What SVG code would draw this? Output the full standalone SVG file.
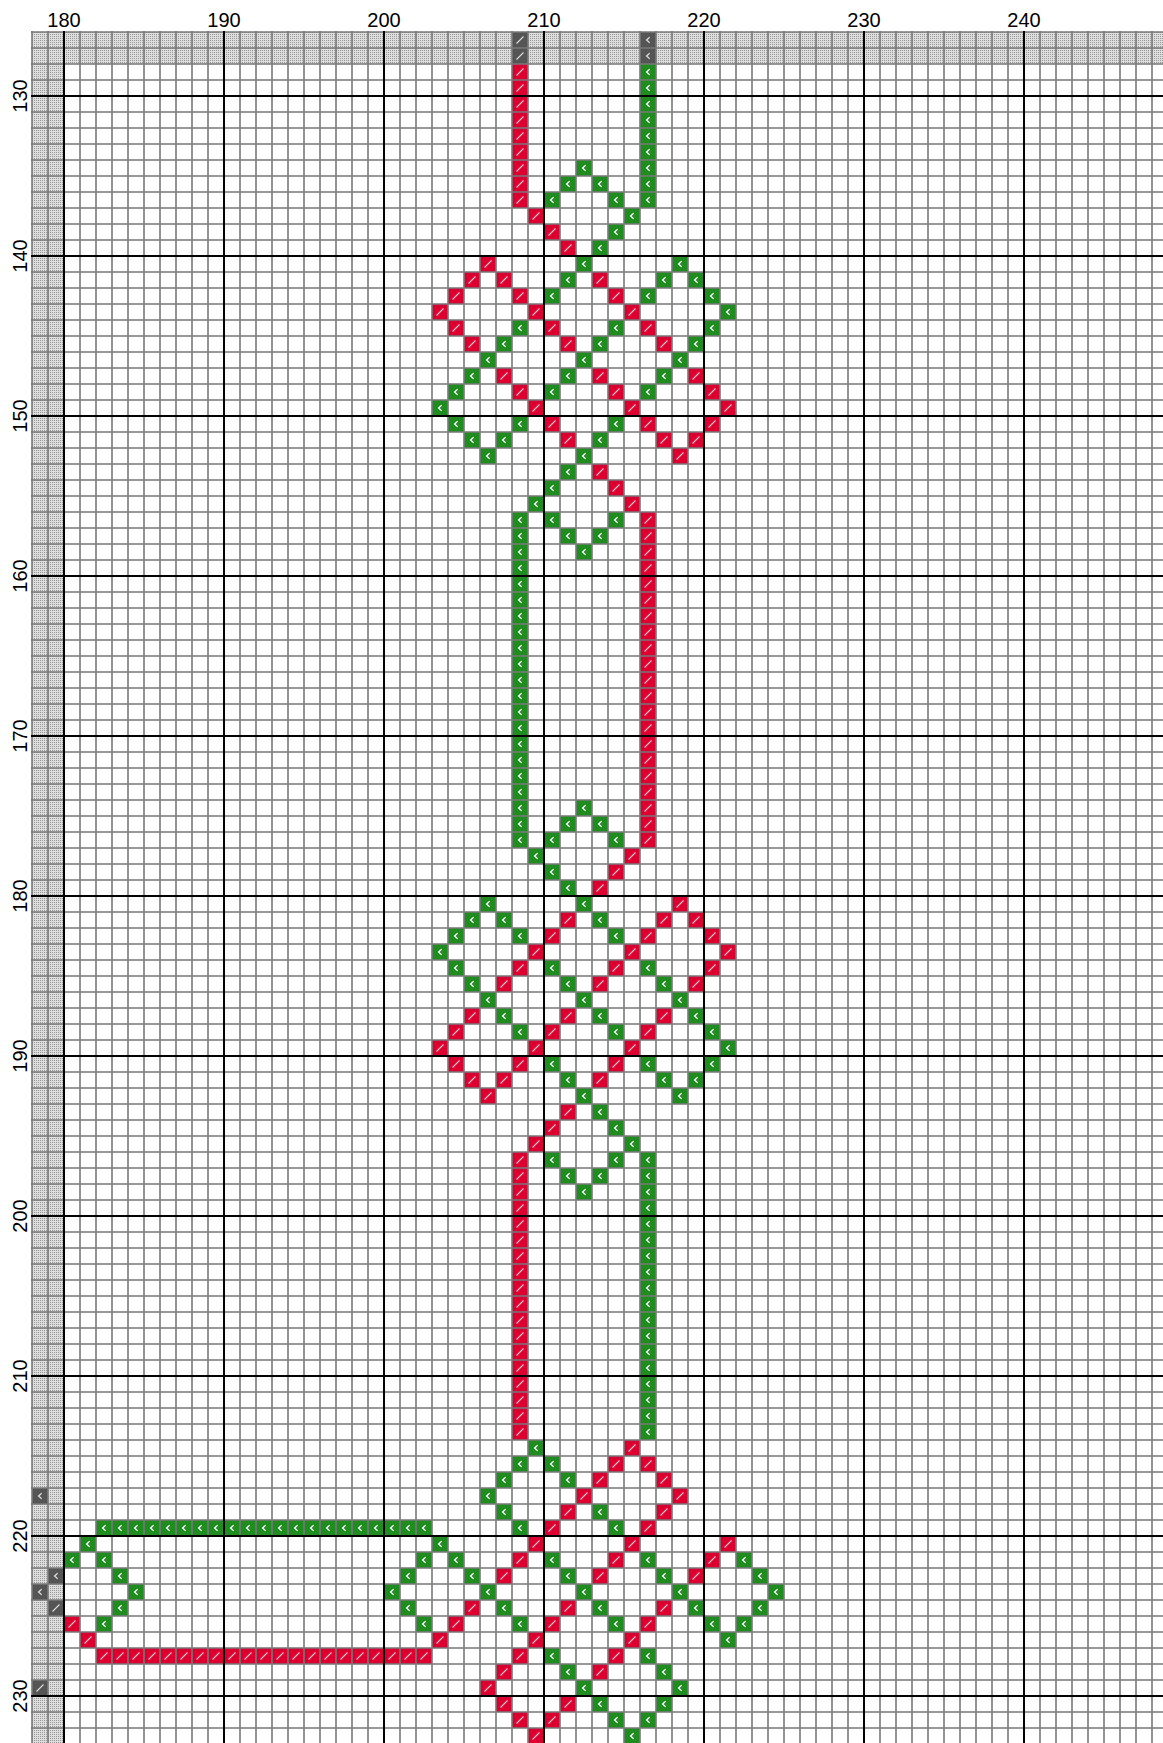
<svg xmlns="http://www.w3.org/2000/svg" width="1163" height="1743" viewBox="0 0 1163 1743">
<style>
.lbl{font-family:"Liberation Sans",Arial,sans-serif;font-size:20px;fill:#000;text-anchor:middle}
.thick{stroke:#000;stroke-width:2;fill:none}
</style>
<defs>
<pattern id="dots" x="0" y="0" width="2" height="2" patternUnits="userSpaceOnUse">
<rect width="2" height="2" fill="#dedede"/><rect width="1" height="1" fill="#979797"/>
</pattern>
<pattern id="gl" x="0" y="0" width="16" height="16" patternUnits="userSpaceOnUse">
<path d="M0 0h0.8v16h-0.8z M15.2 0h0.8v16h-0.8z M0 0h16v0.8h-16z M0 15.2h16v0.8h-16z" fill="#787878"/>
</pattern>
<pattern id="rp" x="0" y="0" width="16" height="16" patternUnits="userSpaceOnUse">
<rect width="16" height="16" fill="#dc0030"/><path d="M4.5 11.5L11.5 4.5" stroke="#f6c4cd" stroke-width="1.1"/>
</pattern>
<pattern id="gp" x="0" y="0" width="16" height="16" patternUnits="userSpaceOnUse">
<rect width="16" height="16" fill="#1f8c1f"/><path d="M9.6 5.2L6.6 8L9.6 10.8" fill="none" stroke="#ffffff" stroke-width="1.3"/>
</pattern>
<pattern id="drp" x="0" y="0" width="16" height="16" patternUnits="userSpaceOnUse">
<rect width="16" height="16" fill="#555555"/><path d="M4.5 11.5L11.5 4.5" stroke="#dddddd" stroke-width="1.1"/>
</pattern>
<pattern id="dgp" x="0" y="0" width="16" height="16" patternUnits="userSpaceOnUse">
<rect width="16" height="16" fill="#555555"/><path d="M9.6 5.2L6.6 8L9.6 10.8" fill="none" stroke="#dddddd" stroke-width="1.3"/>
</pattern>
</defs>
<rect width="1163" height="1743" fill="#ffffff"/>
<g id="rulers">
<rect x="32" y="32" width="1131" height="32" fill="url(#dots)"/>
<rect x="32" y="64" width="32" height="1679" fill="url(#dots)"/>
<path fill="url(#drp)" d="M512 32h16v32h-16z M48 1600h16v16h-16z M32 1680h16v16h-16z"/>
<path fill="url(#dgp)" d="M640 32h16v32h-16z M32 1488h16v16h-16z M48 1568h16v16h-16z M32 1584h16v16h-16z"/>
</g>
<g id="red-stitches">
<path fill="url(#rp)" d="
M512 64h16v144h-16z
M528 208h16v16h-16z M544 224h16v16h-16z M560 240h16v16h-16z
M480 256h16v16h-16z
M464 272h16v16h-16z M496 272h16v16h-16z M592 272h16v16h-16z
M448 288h16v16h-16z M512 288h16v16h-16z M608 288h16v16h-16z
M432 304h16v16h-16z M528 304h16v16h-16z M624 304h16v16h-16z
M448 320h16v16h-16z M544 320h16v16h-16z M640 320h16v16h-16z
M464 336h16v16h-16z M560 336h16v16h-16z M656 336h16v16h-16z
M496 368h16v16h-16z M592 368h16v16h-16z M688 368h16v16h-16z
M512 384h16v16h-16z M608 384h16v16h-16z M704 384h16v16h-16z
M528 400h16v16h-16z M624 400h16v16h-16z M720 400h16v16h-16z
M544 416h16v16h-16z M640 416h16v16h-16z M704 416h16v16h-16z
M560 432h16v16h-16z M656 432h16v16h-16z M688 432h16v16h-16z
M672 448h16v16h-16z
M592 464h16v16h-16z M608 480h16v16h-16z M624 496h16v16h-16z
M640 512h16v336h-16z
M624 848h16v16h-16z M608 864h16v16h-16z M592 880h16v16h-16z
M672 896h16v16h-16z
M560 912h16v16h-16z M656 912h16v16h-16z M688 912h16v16h-16z
M544 928h16v16h-16z M640 928h16v16h-16z M704 928h16v16h-16z
M528 944h16v16h-16z M624 944h16v16h-16z M720 944h16v16h-16z
M512 960h16v16h-16z M608 960h16v16h-16z M704 960h16v16h-16z
M496 976h16v16h-16z M592 976h16v16h-16z M688 976h16v16h-16z
M464 1008h16v16h-16z M560 1008h16v16h-16z M656 1008h16v16h-16z
M448 1024h16v16h-16z M544 1024h16v16h-16z M640 1024h16v16h-16z
M432 1040h16v16h-16z M528 1040h16v16h-16z M624 1040h16v16h-16z
M448 1056h16v16h-16z M512 1056h16v16h-16z M608 1056h16v16h-16z
M464 1072h16v16h-16z M496 1072h16v16h-16z M592 1072h16v16h-16z
M480 1088h16v16h-16z
M560 1104h16v16h-16z M544 1120h16v16h-16z M528 1136h16v16h-16z
M512 1152h16v288h-16z
M624 1440h16v16h-16z
M608 1456h16v16h-16z M640 1456h16v16h-16z
M592 1472h16v16h-16z M656 1472h16v16h-16z
M576 1488h16v16h-16z M672 1488h16v16h-16z
M560 1504h16v16h-16z M656 1504h16v16h-16z
M544 1520h16v16h-16z M640 1520h16v16h-16z
M528 1536h16v16h-16z M624 1536h16v16h-16z M720 1536h16v16h-16z
M512 1552h16v16h-16z M608 1552h16v16h-16z M704 1552h16v16h-16z
M496 1568h16v16h-16z M592 1568h16v16h-16z M688 1568h16v16h-16z
M464 1600h16v16h-16z M560 1600h16v16h-16z M656 1600h16v16h-16z
M64 1616h16v16h-16z M448 1616h16v16h-16z M544 1616h16v16h-16z M640 1616h16v16h-16z
M80 1632h16v16h-16z M432 1632h16v16h-16z M528 1632h16v16h-16z M624 1632h16v16h-16z
M96 1648h336v16h-336z M512 1648h16v16h-16z M608 1648h16v16h-16z
M496 1664h16v16h-16z M592 1664h16v16h-16z
M480 1680h16v16h-16z
M496 1696h16v16h-16z M560 1696h16v16h-16z
M512 1712h16v16h-16z M544 1712h16v16h-16z
M528 1728h16v16h-16z"/>
</g>
<g id="green-stitches">
<path fill="url(#gp)" d="
M640 64h16v144h-16z
M576 160h16v16h-16z
M560 176h16v16h-16z M592 176h16v16h-16z
M544 192h16v16h-16z M608 192h16v16h-16z
M624 208h16v16h-16z M608 224h16v16h-16z M592 240h16v16h-16z
M576 256h16v16h-16z M672 256h16v16h-16z
M560 272h16v16h-16z M656 272h16v16h-16z M688 272h16v16h-16z
M544 288h16v16h-16z M640 288h16v16h-16z M704 288h16v16h-16z
M720 304h16v16h-16z
M512 320h16v16h-16z M608 320h16v16h-16z M704 320h16v16h-16z
M496 336h16v16h-16z M592 336h16v16h-16z M688 336h16v16h-16z
M480 352h16v16h-16z M576 352h16v16h-16z M672 352h16v16h-16z
M464 368h16v16h-16z M560 368h16v16h-16z M656 368h16v16h-16z
M448 384h16v16h-16z M544 384h16v16h-16z M640 384h16v16h-16z
M432 400h16v16h-16z
M448 416h16v16h-16z M512 416h16v16h-16z M608 416h16v16h-16z
M464 432h16v16h-16z M496 432h16v16h-16z M592 432h16v16h-16z
M480 448h16v16h-16z M576 448h16v16h-16z
M560 464h16v16h-16z M544 480h16v16h-16z M528 496h16v16h-16z
M512 512h16v336h-16z
M544 512h16v16h-16z M608 512h16v16h-16z
M560 528h16v16h-16z M592 528h16v16h-16z
M576 544h16v16h-16z
M576 800h16v16h-16z
M560 816h16v16h-16z M592 816h16v16h-16z
M544 832h16v16h-16z M608 832h16v16h-16z
M528 848h16v16h-16z M544 864h16v16h-16z M560 880h16v16h-16z
M480 896h16v16h-16z M576 896h16v16h-16z
M464 912h16v16h-16z M496 912h16v16h-16z M592 912h16v16h-16z
M448 928h16v16h-16z M512 928h16v16h-16z M608 928h16v16h-16z
M432 944h16v16h-16z
M448 960h16v16h-16z M544 960h16v16h-16z M640 960h16v16h-16z
M464 976h16v16h-16z M560 976h16v16h-16z M656 976h16v16h-16z
M480 992h16v16h-16z M576 992h16v16h-16z M672 992h16v16h-16z
M496 1008h16v16h-16z M592 1008h16v16h-16z M688 1008h16v16h-16z
M512 1024h16v16h-16z M608 1024h16v16h-16z M704 1024h16v16h-16z
M720 1040h16v16h-16z
M544 1056h16v16h-16z M640 1056h16v16h-16z M704 1056h16v16h-16z
M560 1072h16v16h-16z M656 1072h16v16h-16z M688 1072h16v16h-16z
M576 1088h16v16h-16z M672 1088h16v16h-16z
M592 1104h16v16h-16z M608 1120h16v16h-16z M624 1136h16v16h-16z
M640 1152h16v288h-16z
M544 1152h16v16h-16z M608 1152h16v16h-16z
M560 1168h16v16h-16z M592 1168h16v16h-16z
M576 1184h16v16h-16z
M528 1440h16v16h-16z
M512 1456h16v16h-16z M544 1456h16v16h-16z
M496 1472h16v16h-16z M560 1472h16v16h-16z
M480 1488h16v16h-16z
M496 1504h16v16h-16z M592 1504h16v16h-16z
M96 1520h336v16h-336z M512 1520h16v16h-16z M608 1520h16v16h-16z
M80 1536h16v16h-16z M432 1536h16v16h-16z
M64 1552h16v16h-16z M96 1552h16v16h-16z M416 1552h16v16h-16z M448 1552h16v16h-16z M544 1552h16v16h-16z M640 1552h16v16h-16z M736 1552h16v16h-16z
M112 1568h16v16h-16z M400 1568h16v16h-16z M464 1568h16v16h-16z M560 1568h16v16h-16z M656 1568h16v16h-16z M752 1568h16v16h-16z
M128 1584h16v16h-16z M384 1584h16v16h-16z M480 1584h16v16h-16z M576 1584h16v16h-16z M672 1584h16v16h-16z M768 1584h16v16h-16z
M112 1600h16v16h-16z M400 1600h16v16h-16z M496 1600h16v16h-16z M592 1600h16v16h-16z M688 1600h16v16h-16z M752 1600h16v16h-16z
M96 1616h16v16h-16z M416 1616h16v16h-16z M512 1616h16v16h-16z M608 1616h16v16h-16z M704 1616h16v16h-16z M736 1616h16v16h-16z
M720 1632h16v16h-16z
M544 1648h16v16h-16z M640 1648h16v16h-16z
M560 1664h16v16h-16z M656 1664h16v16h-16z
M576 1680h16v16h-16z M672 1680h16v16h-16z
M592 1696h16v16h-16z M656 1696h16v16h-16z
M608 1712h16v16h-16z M640 1712h16v16h-16z
M624 1728h16v16h-16z"/>
</g>
<g id="grid">
<rect x="31" y="31" width="1132" height="1712" fill="url(#gl)"/>
<path class="thick" d="M64 31V1743 M224 31V1743 M384 31V1743 M544 31V1743 M704 31V1743 M864 31V1743 M1024 31V1743
M31 96H1163 M31 256H1163 M31 416H1163 M31 576H1163 M31 736H1163 M31 896H1163 M31 1056H1163 M31 1216H1163 M31 1376H1163 M31 1536H1163 M31 1696H1163"/>
</g>
<g id="col-labels">
<text class="lbl" x="64" y="27">180</text>
<text class="lbl" x="224" y="27">190</text>
<text class="lbl" x="384" y="27">200</text>
<text class="lbl" x="544" y="27">210</text>
<text class="lbl" x="704" y="27">220</text>
<text class="lbl" x="864" y="27">230</text>
<text class="lbl" x="1024" y="27">240</text>
</g>
<g id="row-labels">
<text class="lbl" transform="translate(27 96) rotate(-90)">130</text>
<text class="lbl" transform="translate(27 256) rotate(-90)">140</text>
<text class="lbl" transform="translate(27 416) rotate(-90)">150</text>
<text class="lbl" transform="translate(27 576) rotate(-90)">160</text>
<text class="lbl" transform="translate(27 736) rotate(-90)">170</text>
<text class="lbl" transform="translate(27 896) rotate(-90)">180</text>
<text class="lbl" transform="translate(27 1056) rotate(-90)">190</text>
<text class="lbl" transform="translate(27 1216) rotate(-90)">200</text>
<text class="lbl" transform="translate(27 1376) rotate(-90)">210</text>
<text class="lbl" transform="translate(27 1536) rotate(-90)">220</text>
<text class="lbl" transform="translate(27 1696) rotate(-90)">230</text>
</g>
</svg>
